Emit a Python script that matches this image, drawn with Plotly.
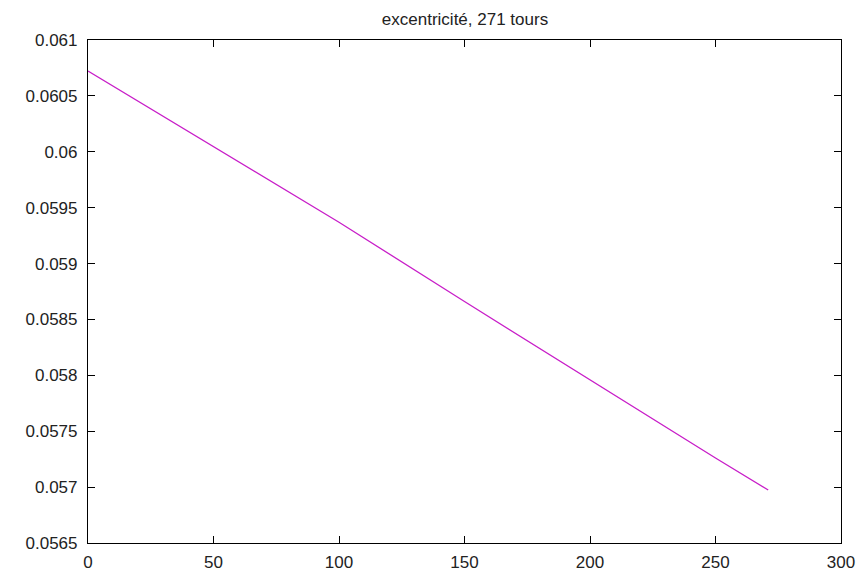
import plotly.graph_objects as go

# Data
tours = [0, 50, 100, 150, 200, 250, 271]
excentricite = [0.060723, 0.060050, 0.059370, 0.058660, 0.057960, 0.057260, 0.056974]

x_ticks = [0, 50, 100, 150, 200, 250, 300]
y_ticks = [0.0565, 0.057, 0.0575, 0.058, 0.0585, 0.059, 0.0595, 0.06, 0.0605, 0.061]
y_ticktext = ["0.0565", "0.057", "0.0575", "0.058", "0.0585", "0.059", "0.0595", "0.06", "0.0605", "0.061"]

fig = go.Figure()
fig.add_trace(go.Scatter(x=tours, y=excentricite, mode="lines",
                         line=dict(color="#c81ec8", width=1.3), showlegend=False))

axis_common = dict(showline=True, linecolor="black", linewidth=1.2, mirror="ticks",
                   ticks="inside", ticklen=7, tickcolor="black", tickwidth=1.2,
                   showgrid=False, zeroline=False,
                   tickfont=dict(family="Liberation Sans, Arial", size=17, color="#222"))

fig.update_layout(
    width=867, height=584,
    margin=dict(l=88, r=19, t=40, b=29),
    paper_bgcolor="white", plot_bgcolor="white",
    title=dict(text="excentricité, 271 tours", x=465/867, xanchor="center",
               y=1 - 19/584, yanchor="middle", yref="container",
               font=dict(family="Liberation Sans, Arial", size=17, color="#222")),
    xaxis=dict(range=[0, 300], tickvals=x_ticks, ticklabelstandoff=3, **axis_common),
    yaxis=dict(range=[0.0565, 0.061], tickvals=y_ticks, ticktext=y_ticktext,
               ticklabelstandoff=6, **axis_common),
)

fig.write_html("out.html")
